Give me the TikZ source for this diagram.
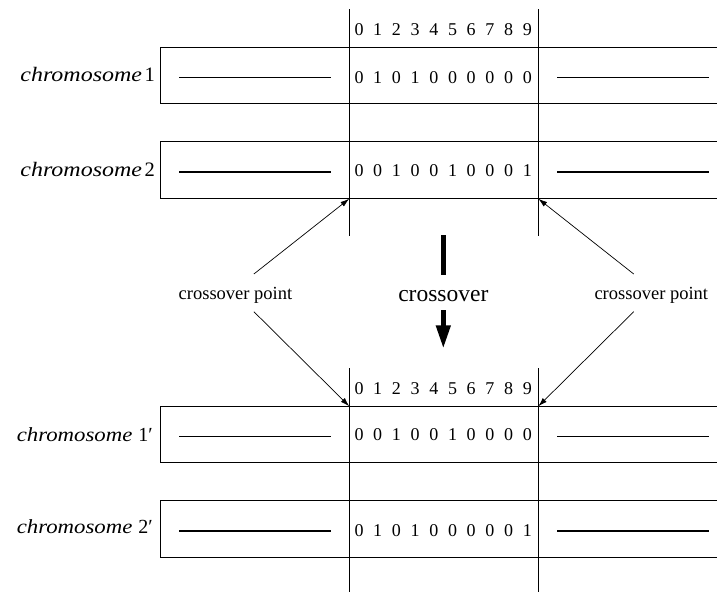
\documentclass[tikz,border=0pt]{standalone}
\usepackage{graphicx}
\usepackage{fontspec}
\setmainfont{Liberation Serif}
\usetikzlibrary{arrows.meta}
\newcommand{\chromtxt}[1]{\scalebox{#1}[1]{\textit{chromosome}}}
\begin{document}
\begin{tikzpicture}[x=1pt,y=-1pt,
  boxline/.style={line width=1pt},
  vline/.style={line width=1pt},
  segthin/.style={line width=1pt},
  segthick/.style={line width=1.7pt},
  digit/.style={font=\fontsize{18}{18}\selectfont, inner sep=0pt},
  chromtop/.style={anchor=base east, inner sep=0pt, font=\fontsize{20.5}{20.5}\selectfont},
  chrombot/.style={anchor=base east, inner sep=0pt, font=\fontsize{20}{20}\selectfont},
  ptlabel/.style={font=\fontsize{18.5}{18.5}\selectfont, inner sep=0pt},
  bigword/.style={font=\fontsize{23.5}{23.5}\selectfont, inner sep=0pt},
  ptarrow/.style={line width=0.7pt,-{Latex[length=9pt,width=5.5pt]}},
  bigarrow/.style={line width=4.5pt,-{Triangle[length=23pt,width=14pt]}},
]
\useasboundingbox (0,0) rectangle (717,592);

% boxes (open on the right, running past the page edge)
\foreach \t/\b/\n in {47.5/103/A,141.7/198.7/B,406.3/462.7/C,500.3/557.3/D}{
  \coordinate (\n tl) at (160,\t);
  \coordinate (\n bl) at (160,\b);
  \coordinate (\n tr) at (720,\t);
  \coordinate (\n br) at (720,\b);
  \draw[boxline] (\n tr) -- (\n tl) -- (\n bl) -- (\n br);
}

% vertical separator lines
\coordinate (L1a) at (349.3,9);   \coordinate (L1b) at (349.3,236);
\coordinate (L2a) at (538.3,9);   \coordinate (L2b) at (538.3,236);
\coordinate (L3a) at (349.3,368); \coordinate (L3b) at (349.3,592);
\coordinate (L4a) at (538.3,368); \coordinate (L4b) at (538.3,592);
\draw[vline] (L1a) -- (L1b);
\draw[vline] (L2a) -- (L2b);
\draw[vline] (L3a) -- (L3b);
\draw[vline] (L4a) -- (L4b);

% crossover point corners
\coordinate (XA) at (349.3,198.7);
\coordinate (XB) at (538.3,198.7);
\coordinate (XC) at (349.3,406.3);
\coordinate (XD) at (538.3,406.3);

% short segments
\foreach \y/\s/\n in {77.7/segthin/A,171.7/segthick/B,436.7/segthin/C,530.7/segthick/D}{
  \coordinate (\n s1) at (179,\y); \coordinate (\n e1) at (331,\y);
  \coordinate (\n s2) at (557,\y); \coordinate (\n e2) at (709,\y);
  \draw[\s] (\n s1) -- (\n e1);
  \draw[\s] (\n s2) -- (\n e2);
}

% digit rows
\foreach \i in {0,...,9}{
  \node[digit] (hT\i) at ({359+18.7*\i},30) {\i};
  \node[digit] (hB\i) at ({359+18.7*\i},389) {\i};
}
\foreach \d [count=\i from 0] in {0,1,0,1,0,0,0,0,0,0}
  \node[digit] (rA\i) at ({359+18.7*\i},77.5) {\d};
\foreach \d [count=\i from 0] in {0,0,1,0,0,1,0,0,0,1}
  \node[digit] (rB\i) at ({359+18.7*\i},170.5) {\d};
\foreach \d [count=\i from 0] in {0,0,1,0,0,1,0,0,0,0}
  \node[digit] (rC\i) at ({359+18.7*\i},435) {\d};
\foreach \d [count=\i from 0] in {0,1,0,1,0,0,0,0,0,1}
  \node[digit] (rD\i) at ({359+18.7*\i},530.5) {\d};

% chromosome labels
\node[chromtop] (cA) at (155,81.7) {\chromtxt{1.17}\hspace{2.5pt}1};
\node[chromtop] (cB) at (155,176.7) {\chromtxt{1.17}\hspace{2.5pt}2};
\node[chrombot] (cC) at (153,441.7) {\chromtxt{1.14}\hspace{6pt}1′};
\node[chrombot] (cD) at (153,533.3) {\chromtxt{1.14}\hspace{6pt}2′};

% crossover labels
\node[ptlabel] (pL) at (235.5,295.3) {crossover point};
\node[ptlabel] (pR) at (651.3,295.3) {crossover point};
\node[bigword] (cw) at (443.3,295.8) {crossover};

\coordinate (pLu) at (253.9,274);
\coordinate (pLd) at (253.9,311.7);
\coordinate (pRu) at (633.7,274);
\coordinate (pRd) at (633.7,311.7);
\draw[ptarrow] (pLu) -- (XA);
\draw[ptarrow] (pLd) -- (XC);
\draw[ptarrow] (pRu) -- (XB);
\draw[ptarrow] (pRd) -- (XD);

% big crossover arrow
\coordinate (ba1) at (443.3,235);
\coordinate (ba2) at (443.3,275);
\coordinate (ba3) at (443.3,310);
\coordinate (ba4) at (443.3,348.3);
\draw[line width=4.5pt] (ba1) -- (ba2);
\draw[bigarrow] (ba3) -- (ba4);
\end{tikzpicture}
\end{document}
